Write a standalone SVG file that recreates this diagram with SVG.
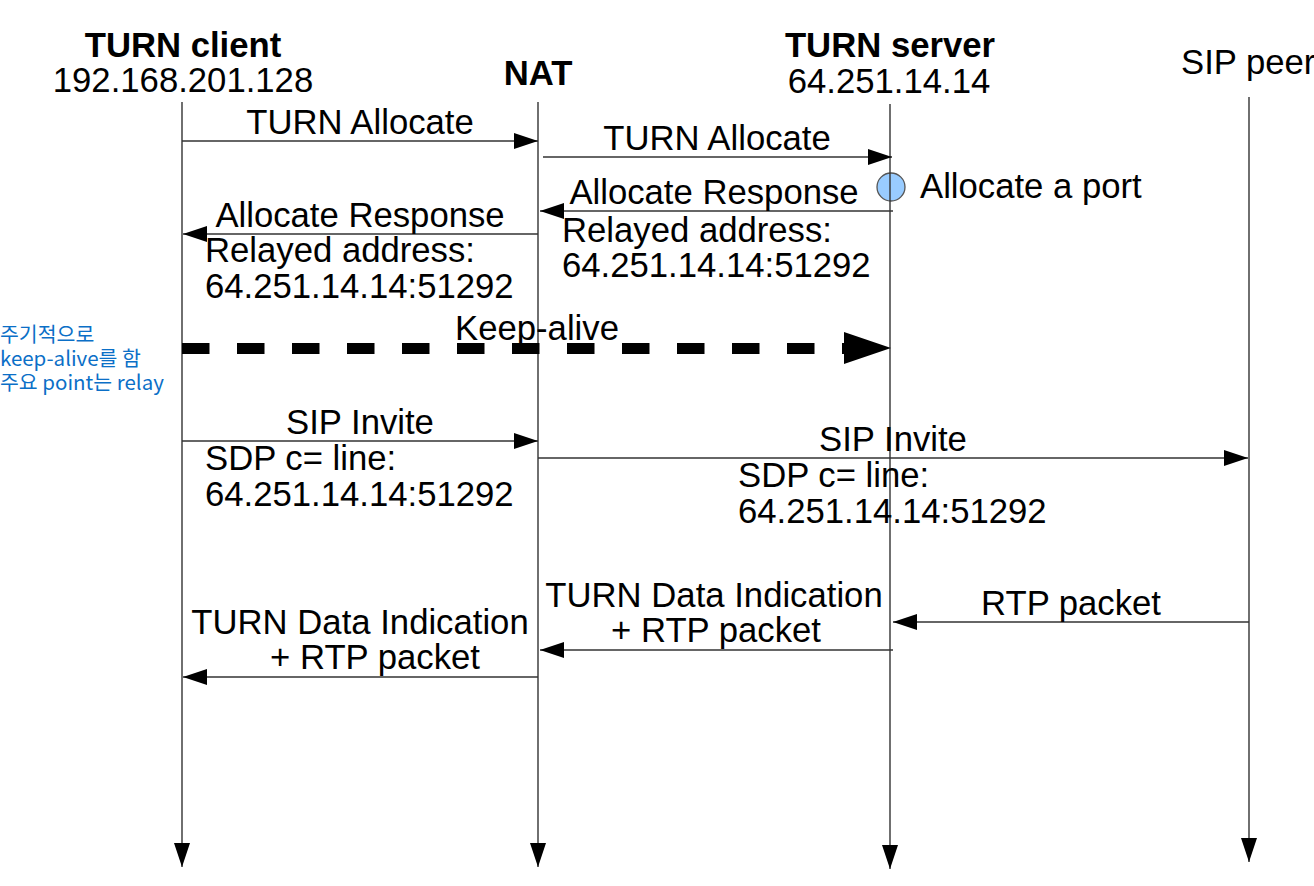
<svg xmlns="http://www.w3.org/2000/svg" width="1314" height="886" viewBox="0 0 1314 886">
<style>
  text { font-family: "Liberation Sans", Arial, sans-serif; font-size: 34.7px; fill: #000; }
  .b { font-weight: bold; }
  .m { text-anchor: middle; }
  .life { stroke: #333; stroke-width: 1.4; fill: none; }
  .msg { stroke: #333; stroke-width: 1.3; fill: none; }
  .note { font-family: "Noto Sans CJK KR", "Noto Sans", sans-serif; font-size: 20.5px; fill: #0b6fc7; }
</style>
<defs>
  <marker id="ah" markerUnits="userSpaceOnUse" markerWidth="26" markerHeight="18" refX="24" refY="8" orient="auto" viewBox="0 0 26 18">
    <path d="M0,0 L24,8 L0,16 Z" fill="#000"/>
  </marker>
</defs>
<rect width="1314" height="886" fill="#fff"/>

<g id="client">
  <text class="b m" x="183" y="57">TURN client</text>
  <text class="m" x="183" y="92">192.168.201.128</text>
</g>
<g id="nat">
  <text class="b m" x="538" y="85">NAT</text>
</g>
<g id="server">
  <text class="b m" x="890" y="57">TURN server</text>
  <text class="m" x="889" y="93">64.251.14.14</text>
  <ellipse cx="891" cy="187" rx="14" ry="14" fill="#99ccff" stroke="#555" stroke-width="1.3"/>
  <text x="920" y="198">Allocate a port</text>
</g>
<g id="peer">
  <text x="1181" y="74">SIP peer</text>
</g>
<g id="note">
  <text class="note" x="0" y="342">주기적으로</text>
  <text class="note" x="0" y="366">keep-alive를 함</text>
  <text class="note" x="0" y="390">주요 point는 relay</text>
</g>

<g id="connectors">
  <line class="life" x1="182" y1="102" x2="182" y2="867" marker-end="url(#ah)"/>
  <line class="life" x1="538" y1="102" x2="538" y2="867" marker-end="url(#ah)"/>
  <line class="life" x1="890" y1="104" x2="890" y2="869" marker-end="url(#ah)"/>
  <line class="life" x1="1249" y1="97" x2="1249" y2="862" marker-end="url(#ah)"/>

  <line class="msg" x1="182" y1="141" x2="538" y2="141" marker-end="url(#ah)"/>
  <line class="msg" x1="543" y1="157" x2="892" y2="157" marker-end="url(#ah)"/>
  <line class="msg" x1="893" y1="211" x2="540" y2="211" marker-end="url(#ah)"/>
  <line class="msg" x1="538" y1="234" x2="183" y2="234" marker-end="url(#ah)"/>

  <line x1="182" y1="348.5" x2="845" y2="348.5" stroke="#000" stroke-width="11" stroke-dasharray="27.5 27.5"/>
  <polygon points="844,332 891,348 844,364" fill="#000"/>

  <line class="msg" x1="182" y1="441" x2="538" y2="441" marker-end="url(#ah)"/>
  <line class="msg" x1="538" y1="458" x2="1248" y2="458" marker-end="url(#ah)"/>
  <line class="msg" x1="1249" y1="622" x2="893" y2="622" marker-end="url(#ah)"/>
  <line class="msg" x1="893" y1="650" x2="540" y2="650" marker-end="url(#ah)"/>
  <line class="msg" x1="538" y1="677" x2="183" y2="677" marker-end="url(#ah)"/>
</g>

<g id="labels">
  <text class="m" x="360" y="134">TURN Allocate</text>
  <text class="m" x="717" y="150">TURN Allocate</text>
  <text class="m" x="714" y="204">Allocate Response</text>
  <text x="562" y="242">Relayed address:</text>
  <text x="562" y="277">64.251.14.14:51292</text>
  <text class="m" x="360" y="227">Allocate Response</text>
  <text x="205" y="262">Relayed address:</text>
  <text x="205" y="298">64.251.14.14:51292</text>
  <text class="m" x="537" y="340">Keep-alive</text>
  <text class="m" x="360" y="434">SIP Invite</text>
  <text x="205" y="470">SDP c= line:</text>
  <text x="205" y="506">64.251.14.14:51292</text>
  <text class="m" x="893" y="451">SIP Invite</text>
  <text x="738" y="487">SDP c= line:</text>
  <text x="738" y="523">64.251.14.14:51292</text>
  <text class="m" x="1071" y="615">RTP packet</text>
  <text class="m" x="714" y="607">TURN Data Indication</text>
  <text class="m" x="716" y="642">+ RTP packet</text>
  <text class="m" x="360" y="634">TURN Data Indication</text>
  <text class="m" x="375" y="669">+ RTP packet</text>
</g>
</svg>
